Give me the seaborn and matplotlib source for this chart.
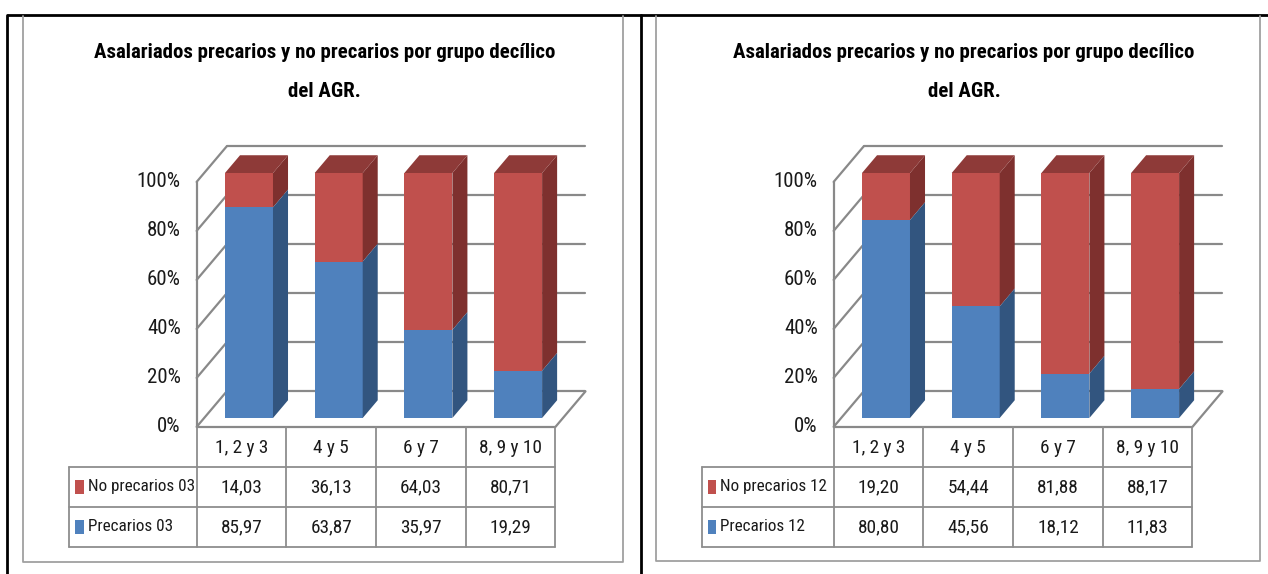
import numpy as np
import pandas as pd
import matplotlib
matplotlib.use("Agg")
import matplotlib.pyplot as plt
import seaborn as sns
from matplotlib import font_manager
from matplotlib.font_manager import FontProperties
from matplotlib.textpath import TextPath
from matplotlib.patches import Polygon, Rectangle

# ---------------- data ----------------
categories = ["1, 2 y 3", "4 y 5", "6 y 7", "8, 9 y 10"]
precarios_03 = [85.97, 63.87, 35.97, 19.29]
no_precarios_03 = [14.03, 36.13, 64.03, 80.71]
precarios_12 = [80.80, 45.56, 18.12, 11.83]
no_precarios_12 = [19.20, 54.44, 81.88, 88.17]
ytick_values = [0, 20, 40, 60, 80, 100]
ytick_labels = ["0%", "20%", "40%", "60%", "80%", "100%"]
title_line1 = "Asalariados precarios y no precarios por grupo decílico"
title_line2 = "del AGR."
series_labels_03 = ["No precarios 03", "Precarios 03"]
series_labels_12 = ["No precarios 12", "Precarios 12"]

# ---------------- fonts: narrowest face among a short whitelist ----------------
sns.set_theme(style="white")
plt.rcParams["font.family"] = ["DejaVu Sans"]

WHITELIST = {"Liberation Sans Narrow", "DejaVu Sans", "Liberation Sans", "Roboto",
             "Roboto Condensed", "Open Sans", "Open Sans Condensed", "Lato", "Inter",
             "Noto Sans", "Arimo"}


def _w(v):
    if isinstance(v, str):
        return {"normal": 400, "regular": 400, "book": 400, "medium": 500,
                "bold": 700, "semibold": 600, "demibold": 600}.get(v.lower(), 400)
    return int(v)


def _ratio(fname):
    fp = FontProperties(fname=fname)
    w = TextPath((0, 0), "No precarios 03", size=10, prop=fp).get_extents().width
    h = TextPath((0, 0), "H", size=10, prop=fp).get_extents().height
    return w / h


entries = [f for f in font_manager.fontManager.ttflist
           if f.name in WHITELIST and f.style == "normal"]
best = None
for f in entries:
    if _w(f.weight) != 400:
        continue
    try:
        r = _ratio(f.fname)
    except Exception:
        continue
    if best is None or r < best[0]:
        best = (r, f)

if best is not None:
    REG = FontProperties(fname=best[1].fname)
    bold_face = None
    for f in entries:
        if f.name == best[1].name and _w(f.weight) >= 600 and str(f.stretch) == str(best[1].stretch):
            if bold_face is None or abs(_w(f.weight) - 700) < abs(_w(bold_face.weight) - 700):
                bold_face = f
    BOLD = FontProperties(fname=bold_face.fname) if bold_face else FontProperties(fname=best[1].fname, weight="bold")
else:
    REG = FontProperties(family="DejaVu Sans")
    BOLD = FontProperties(family="DejaVu Sans", weight="bold")


def size_for(text, target_px, fp):
    w10 = TextPath((0, 0), text, size=10, prop=fp).get_extents().width
    return 10 * target_px / (w10 * 100 / 72)


def fp_sized(fp, size):
    p = fp.copy()
    p.set_size(size)
    return p


TITLE_FP = fp_sized(BOLD, size_for(title_line1, 462, BOLD))
TICK_FP = fp_sized(REG, min(size_for("100%", 42, REG), 15))
LABEL_FP = fp_sized(REG, min(size_for("No precarios 03", 105, REG), 14))
VALUE_FP = fp_sized(REG, min(size_for("14,03", 39, REG), 14))

BLUE, BLUE_SIDE = "#4F81BD", "#32557F"
RED, RED_SIDE, RED_TOP = "#C0504D", "#7E302E", "#8E3A38"
GRID = "#898989"
TABLE_LINE = "#8E8E8E"
FRAME = "#A0A0A0"
TXT = "#1a1a1a"

W, H = 1268, 574
fig = plt.figure(figsize=(W / 100, H / 100), dpi=100)


def add_px_axes(x0, y0, x1, y1):
    return fig.add_axes([x0 / W, 1 - y1 / H, (x1 - x0) / W, (y1 - y0) / H])


bg = add_px_axes(0, 0, W, H)
bg.set_xlim(0, W)
bg.set_ylim(H, 0)
bg.axis("off")
bg.plot([7, W], [14.5, 14.5], color="black", lw=2.0, solid_capstyle="butt")
bg.plot([7, 7], [14.5, H], color="black", lw=2.0)
bg.plot([641, 641], [14.5, H], color="black", lw=2.0)
for (x0, x1, y1) in [(23, 623, 562), (656, 1260, 561)]:
    bg.plot([x0, x0, x1, x1], [15.5, y1, y1, 15.5], color=FRAME, lw=1.3)

SX, SY = 89.7, 2.45
DEPTH = np.array([0.335, 14.5])
T_BAR = 0.25
XB0, XB1 = -0.5, 3.5
XLIM = (-0.9, 4.0)
YLIM = (-6, 116)


def P(xb, y, t):
    return (xb + (t - T_BAR) * DEPTH[0], y + (t - T_BAR) * DEPTH[1])


def fmt(v):
    return f"{v:.2f}".replace(".", ",")


def draw_panel(ox, oy, prec, noprec, labels, table_left, title_cx):
    ax = add_px_axes(ox + SX * XLIM[0], oy - SY * YLIM[1],
                     ox + SX * XLIM[1], oy - SY * YLIM[0])
    ax.patch.set_alpha(0)
    df = pd.DataFrame({"grupo": categories, "prec": prec, "noprec": noprec})
    df["total"] = df["prec"] + df["noprec"]
    sns.barplot(data=df, x="grupo", y="total", color=RED, saturation=1,
                width=0.535, errorbar=None, linewidth=0, ax=ax, zorder=3)
    sns.barplot(data=df, x="grupo", y="prec", color=BLUE, saturation=1,
                width=0.535, errorbar=None, linewidth=0, ax=ax, zorder=3)
    ax.set_xlim(*XLIM)
    ax.set_ylim(*YLIM)
    ax.axis("off")

    bx, by = 0.5 * DEPTH
    patches = list(ax.patches)
    n = len(categories)
    red_p, blue_p = patches[:n], patches[n:]
    for rp, bp in zip(red_p, blue_p):
        x0, x1 = rp.get_x(), rp.get_x() + rp.get_width()
        ytop = rp.get_height()
        yb = bp.get_height()
        ax.add_patch(Polygon([(x1, yb), (x1 + bx, yb + by), (x1 + bx, ytop + by), (x1, ytop)],
                             closed=True, fc=RED_SIDE, ec="none", zorder=3, clip_on=False))
        ax.add_patch(Polygon([(x0, ytop), (x0 + bx, ytop + by), (x1 + bx, ytop + by), (x1, ytop)],
                             closed=True, fc=RED_TOP, ec="none", zorder=3, clip_on=False))
        ax.add_patch(Polygon([(x1, 0), (x1 + bx, by), (x1 + bx, yb + by), (x1, yb)],
                             closed=True, fc=BLUE_SIDE, ec="none", zorder=3.1, clip_on=False))

    lw = 1.6
    for v in ytick_values:
        a, b = P(XB0, v, 1), P(XB1, v, 1)
        ax.plot([a[0], b[0]], [a[1], b[1]], color=GRID, lw=lw, zorder=1, clip_on=False)
        a, b = P(XB0, v, 0), P(XB0, v, 1)
        ax.plot([a[0], b[0]], [a[1], b[1]], color=GRID, lw=lw, zorder=1, clip_on=False)
    for (p0, p1) in [(P(XB0, 0, 0), P(XB0, 100, 0)),
                     (P(XB0, 0, 0), P(XB1, 0, 0)),
                     (P(XB1, 0, 0), P(XB1, 0, 1))]:
        ax.plot([p0[0], p1[0]], [p0[1], p1[1]], color=GRID, lw=lw, zorder=1, clip_on=False)

    for v, lab in zip(ytick_values, ytick_labels):
        x, y = P(XB0, v, 0)
        ax.text(x - 16 / SX, y, lab, ha="right", va="center",
                fontproperties=TICK_FP, color=TXT, clip_on=False)

    fx0 = P(XB0, 0, 0)[0]
    col0_px = ox + SX * fx0
    top_px = oy - SY * P(XB0, 0, 0)[1]
    lab_w = (col0_px - table_left) / SX
    tx = add_px_axes(table_left, top_px, col0_px + 4 * SX, top_px + 120)
    tx.set_xlim(-lab_w, 4)
    tx.set_ylim(3, 0)
    tx.axis("off")
    tlw = 1.3
    for r in [1, 2, 3]:
        tx.plot([-lab_w, 4], [r, r], color=TABLE_LINE, lw=tlw, clip_on=False)
    tx.plot([-lab_w, -lab_w], [1, 3], color=TABLE_LINE, lw=tlw, clip_on=False)
    for c in range(5):
        tx.plot([c, c], [0, 3], color=TABLE_LINE, lw=tlw, clip_on=False)
    for i, cat in enumerate(categories):
        tx.text(i + 0.5, 0.52, cat, ha="center", va="center", fontproperties=VALUE_FP, color=TXT)
        tx.text(i + 0.5, 1.5, fmt(noprec[i]), ha="center", va="center", fontproperties=VALUE_FP, color=TXT)
        tx.text(i + 0.5, 2.5, fmt(prec[i]), ha="center", va="center", fontproperties=VALUE_FP, color=TXT)
    for row, (lab, col) in enumerate(zip(labels, [RED, BLUE])):
        yc = 1.5 + row
        tx.add_patch(Rectangle((-lab_w + 6 / SX, yc - 7 / 40), 8.5 / SX, 14 / 40,
                               fc=col, ec="none", clip_on=False))
        tx.text(-lab_w + 18.5 / SX, yc, lab, ha="left", va="center",
                fontproperties=LABEL_FP, color=TXT)

    bg.text(title_cx, 58, title_line1, ha="center", va="baseline",
            fontproperties=TITLE_FP, color="black")
    bg.text(title_cx, 97, title_line2, ha="center", va="baseline",
            fontproperties=TITLE_FP, color="black")


draw_panel(249, 418, precarios_03, no_precarios_03, series_labels_03, 69.3, 324.5)
draw_panel(886, 418, precarios_12, no_precarios_12, series_labels_12, 701.7, 964)

fig.savefig("out.png", dpi=100)
